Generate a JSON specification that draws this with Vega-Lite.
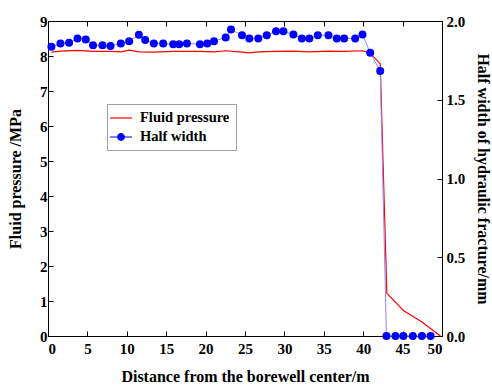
{
  "$schema": "https://vega.github.io/schema/vega-lite/v6.json",
  "width": 394,
  "height": 315,
  "autosize": {"type": "none"},
  "padding": {"left": 48, "top": 21, "right": 50, "bottom": 51},
  "config": {
    "font": "Liberation Serif",
    "view": {"stroke": "black", "strokeWidth": 1},
    "axis": {
      "labelFont": "Liberation Serif", "labelFontWeight": "bold", "labelFontSize": 15, "labelColor": "black",
      "titleFont": "Liberation Serif", "titleFontWeight": "bold", "titleFontSize": 16, "titleColor": "black",
      "tickColor": "black", "domainColor": "black", "grid": false, "tickSize": -5, "labelPadding": 6
    },
    "legend": {
      "labelFont": "Liberation Serif", "labelFontWeight": "bold", "labelFontSize": 14.5, "labelColor": "black"
    }
  },
  "datasets": {
    "pressure": [
      {"distance": 0.43, "pressure": 8.11}, {"distance": 1.58, "pressure": 8.14}, {"distance": 3.74, "pressure": 8.16},
      {"distance": 5.72, "pressure": 8.13}, {"distance": 7.93, "pressure": 8.13}, {"distance": 9.24, "pressure": 8.12},
      {"distance": 10.3, "pressure": 8.17}, {"distance": 11.53, "pressure": 8.12}, {"distance": 13.43, "pressure": 8.11},
      {"distance": 15.89, "pressure": 8.13}, {"distance": 19.28, "pressure": 8.13}, {"distance": 21.06, "pressure": 8.12},
      {"distance": 22.55, "pressure": 8.15}, {"distance": 24.62, "pressure": 8.11}, {"distance": 25.55, "pressure": 8.09},
      {"distance": 26.69, "pressure": 8.12}, {"distance": 28.94, "pressure": 8.13}, {"distance": 31.14, "pressure": 8.14},
      {"distance": 33.17, "pressure": 8.12}, {"distance": 35.59, "pressure": 8.14}, {"distance": 37.58, "pressure": 8.13},
      {"distance": 39.91, "pressure": 8.15}, {"distance": 40.89, "pressure": 8.08}, {"distance": 42.16, "pressure": 7.78},
      {"distance": 43.0, "pressure": 1.22}, {"distance": 45.1, "pressure": 0.73}, {"distance": 47.46, "pressure": 0.4},
      {"distance": 49.8, "pressure": 0.0}
    ],
    "width": [
      {"distance": 0.43, "width": 1.836}, {"distance": 1.58, "width": 1.857}, {"distance": 2.67, "width": 1.862},
      {"distance": 3.74, "width": 1.889}, {"distance": 4.79, "width": 1.883}, {"distance": 5.72, "width": 1.846},
      {"distance": 6.91, "width": 1.846}, {"distance": 7.93, "width": 1.842}, {"distance": 9.24, "width": 1.857},
      {"distance": 10.3, "width": 1.872}, {"distance": 11.53, "width": 1.912}, {"distance": 12.33, "width": 1.879},
      {"distance": 13.43, "width": 1.857}, {"distance": 14.62, "width": 1.857}, {"distance": 15.89, "width": 1.853},
      {"distance": 16.65, "width": 1.853}, {"distance": 17.63, "width": 1.857}, {"distance": 19.28, "width": 1.853},
      {"distance": 20.21, "width": 1.857}, {"distance": 21.06, "width": 1.872}, {"distance": 22.55, "width": 1.895},
      {"distance": 23.22, "width": 1.946}, {"distance": 24.62, "width": 1.91}, {"distance": 25.55, "width": 1.889},
      {"distance": 26.69, "width": 1.889}, {"distance": 27.76, "width": 1.91}, {"distance": 28.94, "width": 1.935},
      {"distance": 29.87, "width": 1.935}, {"distance": 31.14, "width": 1.914}, {"distance": 32.21, "width": 1.889},
      {"distance": 33.17, "width": 1.889}, {"distance": 34.24, "width": 1.91}, {"distance": 35.59, "width": 1.91},
      {"distance": 36.65, "width": 1.889}, {"distance": 37.58, "width": 1.889}, {"distance": 38.98, "width": 1.889},
      {"distance": 39.91, "width": 1.914}, {"distance": 40.89, "width": 1.798}, {"distance": 42.16, "width": 1.682},
      {"distance": 42.95, "width": 0}, {"distance": 44.1, "width": 0}, {"distance": 45.1, "width": 0},
      {"distance": 46.3, "width": 0}, {"distance": 47.45, "width": 0}, {"distance": 48.55, "width": 0}
    ]
  },
  "layer": [
    {
      "data": {"name": "pressure"},
      "mark": {"type": "line", "strokeWidth": 1.2, "clip": false},
      "encoding": {
        "x": {
          "field": "distance", "type": "quantitative",
          "scale": {"domain": [0, 50], "nice": false},
          "axis": {"title": "Distance from the borewell center/m", "values": [0, 5, 10, 15, 20, 25, 30, 35, 40, 45, 50], "labelPadding": 10, "titlePadding": 12}
        },
        "y": {
          "field": "pressure", "type": "quantitative",
          "scale": {"domain": [0, 9], "nice": false},
          "axis": {"title": "Fluid pressure /MPa", "values": [0, 1, 2, 3, 4, 5, 6, 7, 8, 9], "labelPadding": 6, "titlePadding": 16}
        },
        "color": {
          "datum": "Fluid pressure", "type": "nominal",
          "scale": {"domain": ["Fluid pressure", "Half width"], "range": ["#ff0000", "#0000ff"]},
          "legend": {
            "title": null, "orient": "none", "legendX": 59, "legendY": 83,
            "strokeColor": "#a0a0a0", "padding": 6, "rowPadding": 4,
            "symbolSize": 216, "symbolStrokeWidth": 1.2, "labelOffset": 11,
            "symbolType": {"expr": "datum.value === 'Half width' ? 'M-1.5,0H1.5M0.45,0A0.45,0.45 0 1,1 -0.45,0A0.45,0.45 0 1,1 0.45,0' : 'M-1.5,0H1.5'"},
            "symbolFillColor": {"expr": "datum.value === 'Half width' ? '#0000ff' : 'transparent'"}
          }
        }
      }
    },
    {
      "data": {"name": "width"},
      "encoding": {
        "x": {
          "field": "distance", "type": "quantitative",
          "axis": {"orient": "top", "title": null, "labels": false, "values": [0, 5, 10, 15, 20, 25, 30, 35, 40, 45, 50]}
        },
        "y": {
          "field": "width", "type": "quantitative",
          "scale": {"domain": [0, 2], "nice": false},
          "axis": {"orient": "right", "title": "Half width of hydraulic fracture/mm", "values": [0, 0.5, 1, 1.5, 2], "format": ".1f", "labelPadding": 9, "titlePadding": 10}
        }
      },
      "layer": [
        {"mark": {"type": "line", "color": "#8c8cff", "strokeWidth": 1, "clip": false}},
        {
          "mark": {"type": "point", "filled": true, "size": 64, "opacity": 1, "clip": false},
          "encoding": {"color": {"datum": "Half width", "type": "nominal"}}
        }
      ]
    }
  ],
  "resolve": {"scale": {"y": "independent"}, "axis": {"x": "independent"}}
}
